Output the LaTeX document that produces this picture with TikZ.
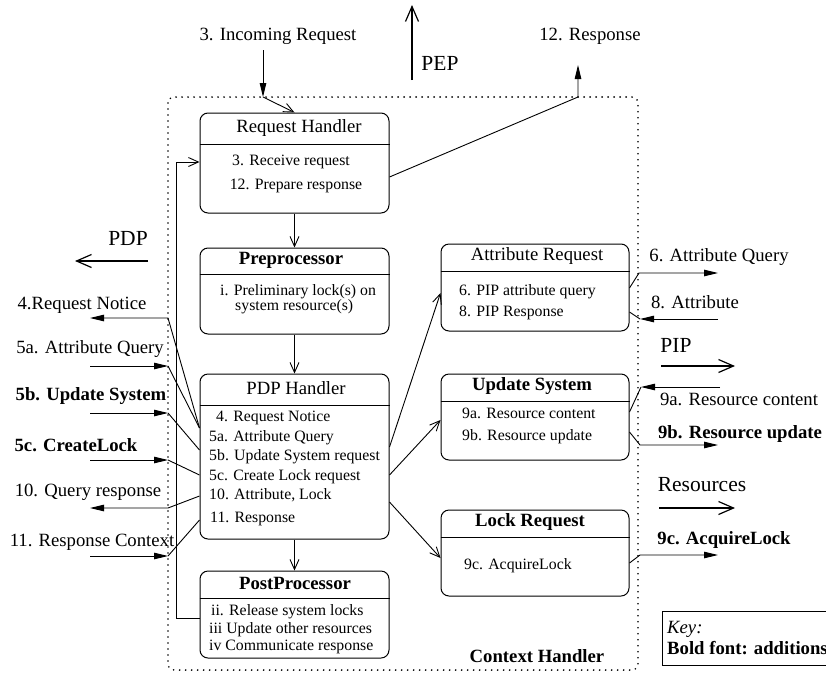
\documentclass[tikz,border=0pt]{standalone}
\usepackage{fontspec}
\setmainfont{Liberation Serif}
\usetikzlibrary{arrows.meta}
\begin{document}
\begin{tikzpicture}[x=1pt,y=-1pt,
  txt/.style={inner sep=0pt, text height=0.66em, text depth=0.06em},
  lbl/.style={txt, font=\fontsize{18.7}{20}\selectfont},
  blbl/.style={txt, font=\fontsize{18.7}{20}\selectfont\bfseries},
  big/.style={txt, font=\fontsize{21.5}{23}\selectfont},
  itm/.style={txt, font=\fontsize{15.8}{17}\selectfont, anchor=west},
  citm/.style={txt, font=\fontsize{15.8}{17}\selectfont},
  cbox/.style={draw, line width=1pt, rounded corners=8pt, inner sep=0pt, minimum width=189pt},
  conn/.style={line width=0.9pt},
  oa/.style={conn, -{Straight Barb[length=10pt,width=9pt,line width=0.9pt]}},
  fa/.style={conn, -{Triangle[length=14pt,width=6.5pt]}},
  bigarrow/.style={line width=1.2pt, -{Straight Barb[length=15pt,width=13pt,line width=1.2pt]}},
  dotbox/.style={line width=1.8pt, line cap=round, dash pattern=on 0pt off 6pt, rounded corners=6pt},
]
\path[use as bounding box] (0,0) rectangle (826,675);
\clip (0,0) rectangle (826,675);

% context handler
\draw[dotbox] (168,97) rectangle (638,670);
\node[blbl] (ctx) at (537,659) {Context Handler};

% boxes
\node[cbox, minimum height=100pt] (rh) at (294.5,163) {};
\node[cbox, minimum height=86pt] (pre) at (294.5,291) {};
\node[cbox, minimum height=165pt] (pdp) at (294.5,456.5) {};
\node[cbox, minimum height=87pt] (post) at (294.5,614.5) {};
\node[cbox, minimum width=188pt, minimum height=87pt] (ar) at (535,287.5) {};
\node[cbox, minimum width=188pt, minimum height=86pt] (us) at (535,417) {};
\node[cbox, minimum width=188pt, minimum height=86pt] (lr) at (535,553) {};

\draw[line width=1pt] (rh.west |- 0,144) -- (rh.east |- 0,144);
\draw[line width=1pt] (pre.west |- 0,274) -- (pre.east |- 0,274);
\draw[line width=1pt] (pdp.west |- 0,405) -- (pdp.east |- 0,405);
\draw[line width=1pt] (post.west |- 0,598) -- (post.east |- 0,598);
\draw[line width=1pt] (ar.west |- 0,271) -- (ar.east |- 0,271);
\draw[line width=1pt] (us.west |- 0,401) -- (us.east |- 0,401);
\draw[line width=1pt] (lr.west |- 0,537) -- (lr.east |- 0,537);

% titles
\node[lbl] (rht) at (299,129) {Request Handler};
\node[blbl] (pret) at (291,261) {Preprocessor};
\node[lbl] (pdpt) at (296,391) {PDP Handler};
\node[blbl] (postt) at (295,586) {PostProcessor};
\node[lbl] (art) at (537,257) {Attribute Request};
\node[blbl] (ust) at (532,387) {Update System};
\node[blbl] (lrt) at (530,523) {Lock Request};

% items
\node[citm] (rh1) at (291,162) {3. Receive request};
\node[citm] (rh2) at (296,186) {12. Prepare response};
\node[itm] (pre1) at (220,292) {i. Preliminary lock(s) on};
\node[itm] (pre2) at (235,307) {system resource(s)};
\node[itm] (pdp1) at (216,418) {4. Request Notice};
\node[itm] (pdp2) at (209,438) {5a. Attribute Query};
\node[itm] (pdp3) at (209,457) {5b. Update System request};
\node[itm] (pdp4) at (209,477) {5c. Create Lock request};
\node[itm] (pdp5) at (209,496) {10. Attribute, Lock};
\node[itm] (pdp6) at (210,519) {11. Response};
\node[itm] (post1) at (211,612) {ii. Release system locks};
\node[itm] (post2) at (209,630) {iii Update other resources};
\node[itm] (post3) at (209,647) {iv Communicate response};
\node[itm] (ar1) at (459,292) {6. PIP attribute query};
\node[itm] (ar2) at (459,313) {8. PIP Response};
\node[itm] (us1) at (462,415) {9a. Resource content};
\node[itm] (us2) at (462,437) {9b. Resource update};
\node[itm] (lr1) at (464,566) {9c. AcquireLock};

% outside labels
\node[lbl] (inc) at (278,37) {3. Incoming Request};
\node[lbl] (resp) at (590,37) {12. Response};
\node[big] (pep) at (440,67) {PEP};
\node[big] (pdpl) at (128,242) {PDP};
\node[lbl] (l4) at (82,306) {4.Request Notice};
\node[lbl] (l5a) at (90,350) {5a. Attribute Query};
\node[blbl] (l5b) at (91,397) {5b. Update System};
\node[blbl] (l5c) at (76,448) {5c. CreateLock};
\node[lbl] (l10) at (88,493) {10. Query response};
\node[lbl] (l11) at (92,543) {11. Response Context};
\node[lbl] (l6) at (719,258) {6. Attribute Query};
\node[lbl] (l8) at (695,305) {8. Attribute};
\node[big] (pip) at (676,349) {PIP};
\node[lbl] (l9a) at (739,402) {9a. Resource content};
\node[blbl] (l9b) at (740,435) {9b. Resource update};
\node[big] (resl) at (702,488) {Resources};
\node[blbl] (l9c) at (724,541) {9c. AcquireLock};

% key
\node[draw, line width=1pt, minimum width=180pt, minimum height=54pt, inner sep=0pt] (key) at (752,638) {};
\node[txt, font=\fontsize{18.7}{20}\selectfont\itshape, anchor=west] (key1) at (667,630) {Key:};
\node[blbl, anchor=west] (key2) at (667,651) {Bold font: additions};

% coordinates
\coordinate (inA) at (263,50);
\coordinate (inB) at (263,97);
\coordinate (rsB) at (578,97);
\coordinate (rsA) at (578,65);
\coordinate (pepA) at (412,80);
\coordinate (pepB) at (412,5);
\coordinate (pdpA) at (148,261);
\coordinate (pdpB) at (75,261);
\coordinate (fbA) at (176,618);
\coordinate (fbB) at (176,162);
\coordinate (c4a) at (168,318);  \coordinate (c4b) at (90,318);
\coordinate (c5aa) at (90,366);  \coordinate (c5ab) at (168,366);
\coordinate (c5ba) at (90,413);  \coordinate (c5bb) at (168,413);
\coordinate (c5ca) at (90,460);  \coordinate (c5cb) at (168,460);
\coordinate (c10a) at (168,508); \coordinate (c10b) at (90,508);
\coordinate (c11a) at (90,556);  \coordinate (c11b) at (168,556);
\coordinate (c6a) at (639,273);  \coordinate (c6b) at (718,273);
\coordinate (c8a) at (718,319);  \coordinate (c8b) at (640,319);
\coordinate (pipA) at (661,366); \coordinate (pipB) at (735,366);
\coordinate (c9aa) at (720,387); \coordinate (c9ab) at (641,387);
\coordinate (c9ba) at (640,445); \coordinate (c9bb) at (718,445);
\coordinate (resA) at (659,508); \coordinate (resB) at (735,508);
\coordinate (c9ca) at (640,555); \coordinate (c9cb) at (718,555);

% top connectors
\draw[fa] (inA) -- (inB);
\draw[oa] (inB) -- (rh.north);
\draw[fa] (rh.east |- 0,177) -- (rsB) -- (rsA);
\draw[bigarrow] (pepA) -- (pepB);

% central flow
\draw[oa] (rh.south) -- (pre.north);
\draw[oa] (pre.south) -- (pdp.north);
\draw[oa] (pdp.south) -- (post.north);
\draw[oa] (post.west |- fbA) -- (fbA) -- (fbB) -- (rh.west |- fbB);

% left side
\draw[bigarrow] (pdpA) -- (pdpB);
\draw[fa] (pdp.west |- 0,428) -- (c4a) -- (c4b);
\draw[fa] (c5aa) -- (c5ab);
\draw[conn] (c5ab) -- (pdp.west |- 0,428);
\draw[fa] (c5ba) -- (c5bb);
\draw[conn] (c5bb) -- (pdp.west |- 0,450);
\draw[fa] (c5ca) -- (c5cb);
\draw[conn] (c5cb) -- (pdp.west |- 0,475);
\draw[fa] (pdp.west |- 0,496) -- (c10a) -- (c10b);
\draw[fa] (c11a) -- (c11b);
\draw[conn] (c11b) -- (pdp.west |- 0,520);

% PDP to right boxes
\draw[oa] (pdp.east |- 0,447) -- (ar.west |- 0,293);
\draw[oa] (pdp.east |- 0,475) -- (us.west |- 0,420);
\draw[oa] (pdp.east |- 0,502) -- (lr.west |- 0,558);

% right side
\draw[fa] (ar.east |- 0,288) -- (c6a) -- (c6b);
\draw[fa] (c8a) -- (c8b);
\draw[conn] (c8b) -- (ar.east |- 0,312);
\draw[bigarrow] (pipA) -- (pipB);
\draw[fa] (c9aa) -- (c9ab);
\draw[conn] (c9ab) -- (us.east |- 0,412);
\draw[fa] (us.east |- 0,432) -- (c9ba) -- (c9bb);
\draw[bigarrow] (resA) -- (resB);
\draw[fa] (lr.east |- 0,563) -- (c9ca) -- (c9cb);
\end{tikzpicture}
\end{document}
